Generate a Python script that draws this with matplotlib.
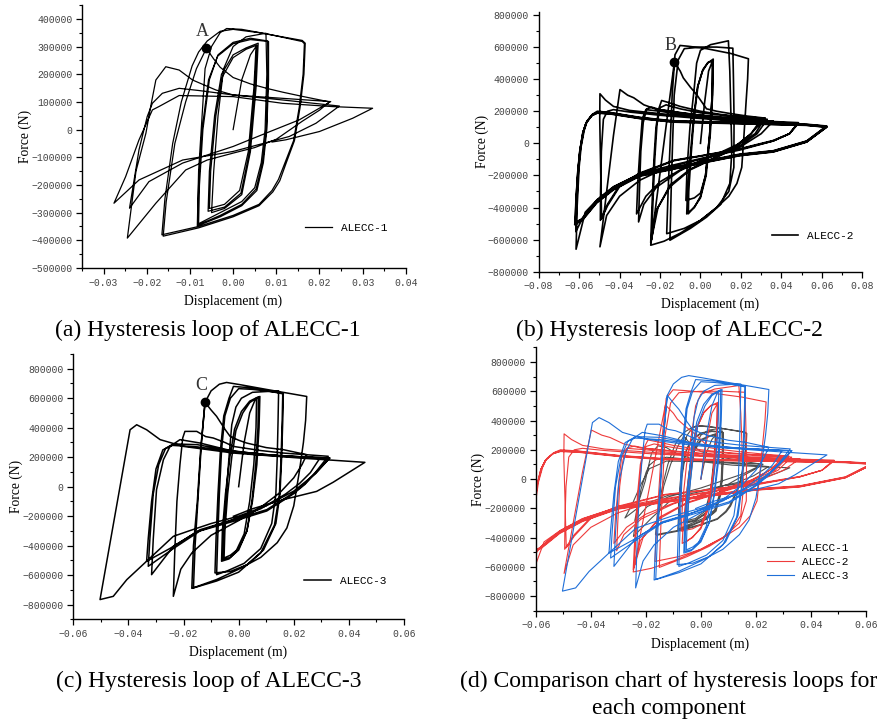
import matplotlib.pyplot as plt
import matplotlib.ticker as mticker
import numpy as np

# Load paths: (displacement in mm, force in kN), in loading order.
ALECC1 = [
    (0, 0), (2, 180), (4, 270), (5.3, 300),
    (4.8, 150), (3.5, -80), (1.5, -220), (-2, -270), (-5.5, -285),
    (-5.2, -150), (-4, 50), (-2.5, 190), (0, 260), (3, 290), (5.5, 305),
    (5, 150), (3.8, -80), (1.8, -230), (-2, -280), (-5.8, -295),
    (-5.5, -150), (-4.3, 50), (-2.7, 200), (0, 270), (3, 295), (5.8, 312),
    (5.3, 150), (4, -80), (2, -235), (-2, -285), (-5, -300),
    (-4.5, -150), (-3.5, 50), (-2.2, 220), (0, 300), (3, 335), (7.6, 348),
    (7.8, 200), (7.4, 0), (6.5, -120), (5, -210), (2, -260), (-3, -300), (-8, -340),
    (-7.8, -200), (-7, 0), (-5.5, 180), (-3.5, 270), (0, 315), (4, 330), (8, 320),
    (8.1, 200), (7.7, 0), (6.8, -120), (5.3, -215), (2, -270), (-3, -310), (-8.2, -345),
    (-8, -200), (-7.2, 0), (-5.7, 180), (-3.6, 265), (0, 310), (4, 325), (8.2, 318),
    (8.2, 180), (7.8, 0), (7, -120), (5.5, -220), (2, -275), (-3, -315), (-8.3, -348),
    (-8, -150), (-7.2, 50), (-6.5, 220), (-5, 300), (-3, 350), (-1.5, 365), (2, 362), (8, 345), (16, 318), (16.5, 310),
    (16.2, 200), (15.3, 80), (14, -40), (12, -120), (10.5, -180), (9, -220), (6, -270), (0, -310), (-8, -350), (-16.5, -380),
    (-15.8, -250), (-14, -50), (-12, 100), (-9.5, 230), (-8, 280), (-6, 320), (-3, 355), (0, 362), (6, 350), (16, 322), (16.7, 312),
    (16.4, 200), (15.5, 80), (14.2, -40), (12.3, -120), (10.8, -185), (9.2, -225), (6, -275), (0, -315), (-8, -355), (-16.2, -385),
    (-15.5, -260), (-13.5, -50), (-11, 100), (-8.5, 220), (-6.2, 293),
    (-4.5, 255), (-3, 225), (0, 188), (4, 165), (8, 148), (11.5, 135), (16, 120), (22.3, 100),
    (20, 70), (16, 30), (10, -35), (5, -65), (0, -85), (-6, -110), (-11, -146), (-17.9, -266), (-24.5, -392),
    (-22.5, -150), (-20.2, -13), (-19.1, 83), (-17.9, 179), (-15.6, 227), (-12.5, 215), (-9.4, 179), (-4, 143), (0, 125), (11.4, 113), (22.6, 101),
    (15.3, 35), (7.6, -13), (0, -61), (-11.7, -121), (-19.5, -188), (-24, -284),
    (-21.8, -73), (-19.9, 47), (-18.7, 95), (-16.4, 131), (-12.5, 149), (-7.9, 141), (0, 125), (11.4, 107), (24.6, 85),
    (19.2, 23), (13, -25), (0, -79), (-11.7, -110), (-21.8, -182), (-27.6, -266),
    (-24.9, -170), (-21.8, -37), (-18.7, 71), (-17.2, 83), (-12.5, 123), (0, 119), (11.4, 95), (23, 83), (32.3, 77),
    (27.7, 41), (20, -7), (15.3, -25), (12.2, -37), (9, -45),
]

ALECC2 = [
    (0, 0), (2, 250), (4, 450), (6, 515),
    (5.8, 300), (4.5, 50), (2.5, -200), (0, -330), (-3, -400), (-6.8, -440),
    (-6.4, -300), (-5.2, -100), (-3.5, 150), (-1.5, 350), (1, 450), (3.5, 500), (6.3, 525),
    (6, 300), (4.8, 50), (2.8, -200), (0, -340), (-3, -395), (-6, -439),
    (-5.8, -300), (-4.8, -100), (-3.2, 160), (-1.2, 360), (1.2, 460), (3.8, 505), (6, 512),
    (5.8, 300), (4.5, 50), (2.5, -200), (0, -310), (-3, -340), (-7.2, -356),
    (-6.6, -150), (-5.2, 100), (-3.2, 330), (-1.9, 500), (0, 580), (5, 615), (13.8, 639),
    (14.5, 450), (15, 200), (15.5, -50), (14.5, -250), (10, -380), (3, -460), (-5, -530), (-15.1, -604),
    (-14.5, -300), (-13.8, 0), (-13, 300), (-11, 520), (-8, 590), (0, 600), (8, 600), (16, 593),
    (16.3, 400), (16.6, 150), (16.5, -150), (14, -300), (8, -400), (0, -480), (-8, -530), (-16.7, -563),
    (-16, -300), (-15, 0), (-14, 300), (-12.6, 552), (-10.1, 610), (-6, 605), (3, 590), (15, 560), (23.7, 527),
    (23.3, 400), (22.5, 250), (21.5, 50), (20.4, -150), (18, -250), (14, -330), (8, -400), (0, -480), (-10, -560), (-18, -610), (-24.6, -635),
    (-12.9, 507), (-10, 450), (-8.5, 408), (-5, 350), (-1.9, 304), (3, 215), (8, 200), (15, 185), (23, 170), (32, 157),
    (25, 60), (15, -40), (5, -100), (-5, -160), (-15, -260), (-21, -400), (-24.6, -620),
    (-24, -400), (-23, -100), (-22, 100), (-20.5, 220), (-19.2, 267), (-16, 255), (-10, 230), (0, 200), (10, 180), (20, 165), (30, 150),
    (25, 60), (15, -45), (5, -105), (-5, -165), (-15, -270), (-22, -420), (-24.2, -600),
    (-23.6, -400), (-22.6, -100), (-21.5, 120), (-20, 222), (-17, 240), (-10, 215), (0, 190), (15, 170), (31.9, 156),
    (27, 60), (19.5, 0), (11, -50), (0, -110), (-10, -170), (-21.7, -273), (-28, -380), (-30.6, -490),
    (-30.2, -300), (-29.5, -50), (-28.3, 130), (-26.6, 215), (-24, 225), (-20, 210), (-10, 190), (0, 175), (15, 160), (33, 150),
    (28, 60), (20, -10), (10, -60), (0, -110), (-10, -165), (-20, -240), (-27, -330), (-31.6, -440),
    (-31, -250), (-30, -50), (-28.8, 150), (-27, 210), (-20, 200), (-10, 180), (0, 165), (15, 150), (36, 139),
    (30, 60), (20, -20), (10, -65), (0, -100), (-10, -130), (-20, -170), (-30, -230), (-40, -330), (-46.4, -450), (-49.7, -645),
    (-46.4, -300), (-43, 50), (-39.8, 335), (-36, 300), (-33, 284), (-28, 240), (-21.7, 212), (0, 175), (19.5, 145), (48.4, 129),
    (44, 60), (36, 15), (20, -35), (0, -80), (-13, -108), (-30, -190), (-40, -270), (-46, -390), (-48.9, -470),
    (-49.3, -200), (-49.8, 150), (-49.7, 309), (-47, 270), (-43, 230), (-35, 205), (-20, 185), (0, 160), (20, 140), (48, 125),
    (44, 60), (36, 18), (20, -32), (0, -78), (-13, -105), (-30, -185), (-40, -262), (-46, -380), (-49.5, -480),
    (-49.4, -300), (-49, -50), (-48, 150), (-46, 200), (-43, 210), (-35, 195), (-20, 175), (0, 155), (20, 135), (48.5, 125),
    (44, 60), (36, 15), (20, -40), (0, -95), (-15, -140), (-30, -190), (-43, -270), (-51, -350), (-57, -430), (-61.5, -660),
    (-61, -400), (-60, -150), (-59, -20), (-57.5, 80), (-56, 140), (-53.5, 180), (-51, 200), (-44.7, 192), (-30, 162), (-13.4, 140), (19.5, 130), (52.5, 119), (62.4, 108),
    (52.5, 15), (36, -46), (19.5, -67), (3, -108), (-13.4, -150), (-30, -191), (-43, -273), (-51.3, -356), (-58, -459), (-61.6, -550),
    (-61.2, -380), (-60.3, -160), (-59.3, -30), (-57.8, 75), (-56.2, 135), (-53.5, 178), (-51, 195), (-44.7, 190), (-30, 160), (-13.4, 138), (19.5, 128), (52.5, 117), (62.2, 106),
    (52.5, 13), (36, -48), (19.5, -70), (3, -111), (-13.4, -153), (-30, -195), (-43, -278), (-51.3, -360), (-58, -462), (-61.8, -510),
    (-61.4, -370), (-60.5, -170), (-59.5, -40), (-58, 70), (-56.4, 130), (-53.6, 175), (-51, 192), (-44.7, 187), (-30, 158), (-13.4, 136), (19.5, 126), (52.5, 115), (62.6, 104),
    (52.5, 11), (36, -50), (19.5, -72), (3, -113), (-13.4, -156), (-30, -198), (-43, -282), (-51.3, -364), (-58, -466), (-62, -500),
    (-61.6, -360), (-60.7, -180), (-59.7, -50), (-58.2, 65), (-56.6, 126), (-53.8, 172), (-51, 190), (-44.7, 185), (-30, 156), (-13.4, 134), (19.5, 124), (52.5, 113), (62.4, 102),
    (52.5, 9), (36, -52), (19.5, -75), (3, -116), (-13.4, -159), (-30, -202), (-43, -286), (-51.3, -368), (-58, -470), (-61.9, -490),
    (-61.5, -350), (-60.6, -175), (-59.6, -45), (-58.1, 68), (-56.5, 128), (-53.7, 174), (-51, 188), (-44.7, 183), (-30, 154), (-13.4, 132), (19.5, 122), (52.5, 112), (62.3, 100),
    (52.5, 8), (36, -54), (19.5, -77), (3, -118), (-13.4, -161), (-30, -205), (-43, -290), (-51.3, -372), (-58, -474), (-62.1, -505),
]

ALECC3 = [
    (0, 0), (2, 300), (4, 500), (6, 590), (7.7, 612),
    (7.4, 400), (6.6, 150), (5, -100), (3, -300), (0, -420), (-3, -465), (-5.3, -484),
    (-5, -300), (-4, -50), (-2.5, 200), (-1, 380), (1.5, 500), (4, 570), (6.5, 601),
    (6.3, 400), (5.5, 150), (4, -100), (2, -320), (-1, -440), (-3.5, -490), (-6.2, -506),
    (-5.9, -300), (-4.8, -50), (-3.2, 200), (-1.5, 390), (1, 510), (4, 580), (7.2, 610),
    (7, 400), (6.2, 150), (4.8, -100), (3, -300), (0, -430), (-3, -480), (-5.8, -495),
    (-5.5, -300), (-4.5, -50), (-3.5, 200), (-2.5, 420), (-1, 540), (1, 600), (5, 640), (14.5, 650),
    (14.3, 450), (14, 200), (13.5, -50), (12, -250), (8, -420), (2, -520), (-4, -570), (-8, -597),
    (-7.6, -350), (-7, -50), (-6.2, 250), (-5, 480), (-3, 600), (0, 665), (5, 660), (16.2, 635),
    (16, 450), (15.6, 200), (15, -50), (13.5, -250), (9, -430), (3, -530), (-3, -575), (-8.6, -585),
    (-8.2, -350), (-7.5, -50), (-6.6, 250), (-5.4, 480), (-3.5, 600), (-1.9, 680), (5, 670), (16, 630),
    (15.8, 450), (15.4, 200), (14.8, -50), (13, -260), (8, -450), (0, -580), (-8, -640), (-16.4, -687),
    (-15.8, -400), (-14.8, -100), (-13.5, 300), (-12.2, 572), (-10, 650), (-7, 695), (-4.4, 707), (0.5, 692), (10, 660), (24.7, 612),
    (24.3, 450), (23.5, 300), (22, 100), (20, -130), (17.5, -280), (14, -380), (8, -480), (0, -560), (-8, -630), (-17, -690),
    (-16.4, -400), (-15, -100), (-13.8, 250), (-12.2, 572),
    (-10, 520), (-8, 477), (-5, 390), (-3.1, 341), (0, 315), (2.9, 296), (10, 265), (16.2, 251), (24.7, 217),
    (23, 150), (20, 60), (15, -40), (8, -140), (0, -230), (-10, -330), (-17, -450), (-21, -560), (-23.7, -744),
    (-23.2, -450), (-22.4, -100), (-21.3, 150), (-20.3, 330), (-19.5, 375), (-15.2, 375), (-12, 340), (-9.2, 330), (-5, 300), (-1.9, 273), (8, 245), (16.2, 228), (32.5, 206),
    (28, 100), (24, 20), (19.8, -43), (10.2, -156), (-1.9, -224), (-14, -292), (-23.7, -405), (-31.6, -597),
    (-31, -359), (-29.8, -20), (-27.3, 183), (-24.9, 273), (-21.3, 319), (-14, 296), (-1.9, 240), (16.2, 206), (33.1, 194),
    (28, 95), (24, 15), (19.8, -50), (10.2, -165), (-1.9, -235), (-14, -300), (-23.7, -420), (-32.8, -540),
    (-32.2, -350), (-31, -50), (-29, 150), (-26.5, 260), (-23.7, 290), (-15, 285), (-5, 250), (8, 220), (29.5, 194),
    (26, 95), (22, 20), (17, -50), (8, -150), (-3, -230), (-15, -305), (-25, -420), (-33.4, -506),
    (-32.8, -350), (-31.6, -100), (-30, 120), (-27.5, 250), (-24, 280), (-15, 270), (-5, 245), (8, 215), (33, 194),
    (28, 90), (20, -30), (10, -130), (0, -200), (-10, -250), (-18, -300), (-23.7, -337), (-33.4, -506), (-40.6, -631), (-45.5, -744), (-50.3, -766),
    (-39.4, 386), (-37, 420), (-33.4, 386), (-28.5, 319), (-20, 273), (-1.9, 228), (22.3, 194), (45.8, 165),
    (34.3, 30), (28.3, -32), (16.2, -88), (5, -150), (-1.9, -201),
]

SPECIMENS = ["ALECC-1", "ALECC-2", "ALECC-3"]
PEAK_POINTS = [(-6.2, 293), (-12.9, 507), (-12.2, 572)]   # A, B, C (mm, kN)
PEAK_LABELS = ["A", "B", "C"]
CAPTIONS = [
    "(a) Hysteresis loop of ALECC-1",
    "(b) Hysteresis loop of ALECC-2",
    "(c) Hysteresis loop of ALECC-3",
    "(d) Comparison chart of hysteresis loops for\neach component",
]
COMPARE_COLORS = ["#4f4f4f", "#ee3b3b", "#1f6fd8"]

SERIF = "Liberation Serif"
MONO = "Liberation Mono"


def _xy(path):
    arr = np.asarray(path, dtype=float)
    return arr[:, 0] / 1000.0, arr[:, 1] * 1000.0


def _fmt_x(v, _pos):
    return f"{v:.2f}".replace("-", "\u2212")


def _fmt_y(v, _pos):
    return f"{int(round(v))}".replace("-", "\u2212")


def _style(ax, xlim, xmaj, ylim, ymaj, xlab_x):
    ax.set_xlim(*xlim)
    ax.set_ylim(*ylim)
    ax.xaxis.set_major_locator(mticker.MultipleLocator(xmaj))
    ax.xaxis.set_minor_locator(mticker.MultipleLocator(xmaj / 2))
    ax.yaxis.set_major_locator(mticker.MultipleLocator(ymaj))
    ax.yaxis.set_minor_locator(mticker.MultipleLocator(ymaj / 2))
    ax.xaxis.set_major_formatter(mticker.FuncFormatter(_fmt_x))
    ax.yaxis.set_major_formatter(mticker.FuncFormatter(_fmt_y))
    for side in ("top", "right"):
        ax.spines[side].set_visible(False)
    for side in ("left", "bottom"):
        ax.spines[side].set_linewidth(1.0)
    ax.tick_params(which="major", direction="out", length=4, width=0.9,
                   labelsize=7, labelcolor="#444444", pad=3)
    ax.tick_params(which="minor", direction="out", length=2, width=0.8)
    for lab in ax.get_xticklabels() + ax.get_yticklabels():
        lab.set_fontfamily(MONO)
    ax.set_xlabel("Displacement (m)", fontfamily=SERIF, fontsize=9.8)
    ax.set_ylabel("Force (N)", fontfamily=SERIF, fontsize=9.8)
    ax.xaxis.set_label_coords(xlab_x, -0.10)
    ax.yaxis.set_label_coords(-0.153, 0.5)


def _legend(ax, x, y):
    ax.legend(loc="center left", bbox_to_anchor=(x, y), frameon=False,
              prop={"family": MONO, "size": 8}, handlelength=2.4,
              handletextpad=0.8, borderpad=0, borderaxespad=0, labelspacing=0.35)


fig = plt.figure(figsize=(8.8, 7.22), dpi=100)
ax_a = fig.add_axes([0.0932, 0.6288, 0.368, 0.3643])
ax_b = fig.add_axes([0.6121, 0.6237, 0.3678, 0.3600])
ax_c = fig.add_axes([0.0833, 0.1422, 0.3758, 0.3675])
ax_d = fig.add_axes([0.6088, 0.1541, 0.3753, 0.3648])

single = [
    (ax_a, ALECC1, 0.9, (-0.035, 0.04), 0.01, (-500000, 450000), 100000, (0.69, 0.152), 0.466),
    (ax_b, ALECC2, 1.2, (-0.08, 0.08), 0.02, (-800000, 820000), 200000, (0.72, 0.137), 0.529),
    (ax_c, ALECC3, 1.1, (-0.06, 0.06), 0.02, (-900000, 900000), 200000, (0.698, 0.145), 0.498),
]
for i, (ax, path, lw, xlim, xmaj, ylim, ymaj, leg, xlab_x) in enumerate(single):
    d, f = _xy(path)
    ax.plot(d, f, color="black", lw=lw, label=SPECIMENS[i])
    px, py = _xy([PEAK_POINTS[i]])
    ax.plot(px, py, "o", color="black", ms=6, zorder=5)
    ax.annotate(PEAK_LABELS[i], (px[0], py[0]), xytext=(-3, 6), textcoords="offset points",
                ha="center", va="bottom", fontfamily=SERIF, fontsize=13, color="#333333")
    _style(ax, xlim, xmaj, ylim, ymaj, xlab_x)
    _legend(ax, *leg)

for path, name, color in zip([ALECC1, ALECC2, ALECC3], SPECIMENS, COMPARE_COLORS):
    d, f = _xy(path)
    ax_d.plot(d, f, color=color, lw=0.8, label=name)
_style(ax_d, (-0.06, 0.06), 0.02, (-900000, 900000), 200000, 0.499)
_legend(ax_d, 0.70, 0.186)

cap_pos = [(0.236, 0.543), (0.761, 0.543), (0.237, 0.056), (0.760, 0.037)]
for text, (cx, cy) in zip(CAPTIONS, cap_pos):
    fig.text(cx, cy, text, ha="center", va="center", fontfamily=SERIF,
             fontsize=17, linespacing=1.38)

fig.savefig("out.png", dpi=100)
